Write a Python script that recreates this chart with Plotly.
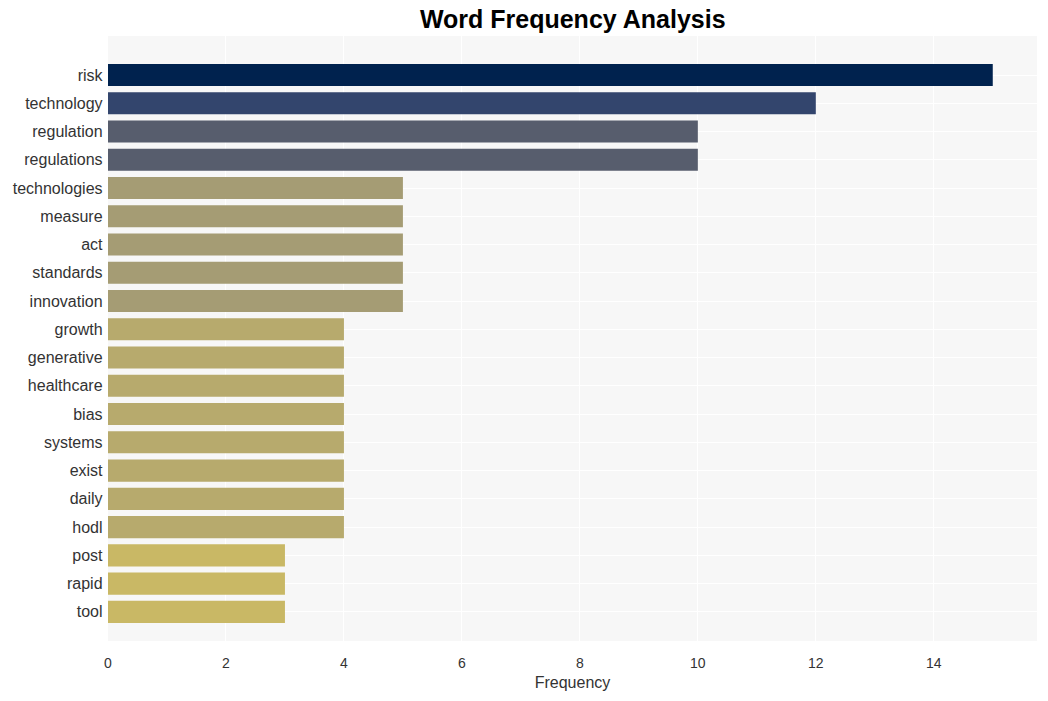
import plotly.graph_objects as go

words = ["risk", "technology", "regulation", "regulations", "technologies", "measure", "act",
         "standards", "innovation", "growth", "generative", "healthcare", "bias", "systems",
         "exist", "daily", "hodl", "post", "rapid", "tool"]
counts = [15, 12, 10, 10, 5, 5, 5, 5, 5, 4, 4, 4, 4, 4, 4, 4, 4, 3, 3, 3]

fig = go.Figure(go.Bar(
    x=counts, y=words, orientation="h",
    marker=dict(color=counts, colorscale="Cividis", reversescale=True, cmin=0, cmax=15,
                line=dict(width=0)),
    width=0.78,
))

fig.update_layout(
    width=1048, height=701,
    margin=dict(l=108, r=11, t=36, b=60),
    paper_bgcolor="white", plot_bgcolor="#F7F7F7",
    font=dict(family="Arial, Liberation Sans, sans-serif", color="#333"),
    title=dict(text="<b>Word Frequency Analysis</b>", x=0.5465, xanchor="center",
               y=0.972, yanchor="middle", font=dict(size=25, color="black")),
    showlegend=False,
)
fig.update_xaxes(title=dict(text="Frequency", font=dict(size=16), standoff=6),
                 range=[0, 15.75], dtick=2, showgrid=True, gridcolor="white", gridwidth=1,
                 zeroline=False, tickfont=dict(size=14, color="#333"), ticks="",
                 ticklabelstandoff=12)
fig.update_yaxes(categoryorder="array", categoryarray=words, range=[20.03, -1.38],
                 showgrid=True, gridcolor="white", gridwidth=1,
                 tickfont=dict(size=16, color="#333"),
                 ticks="", ticksuffix=" ")

fig.write_html("out.html")
